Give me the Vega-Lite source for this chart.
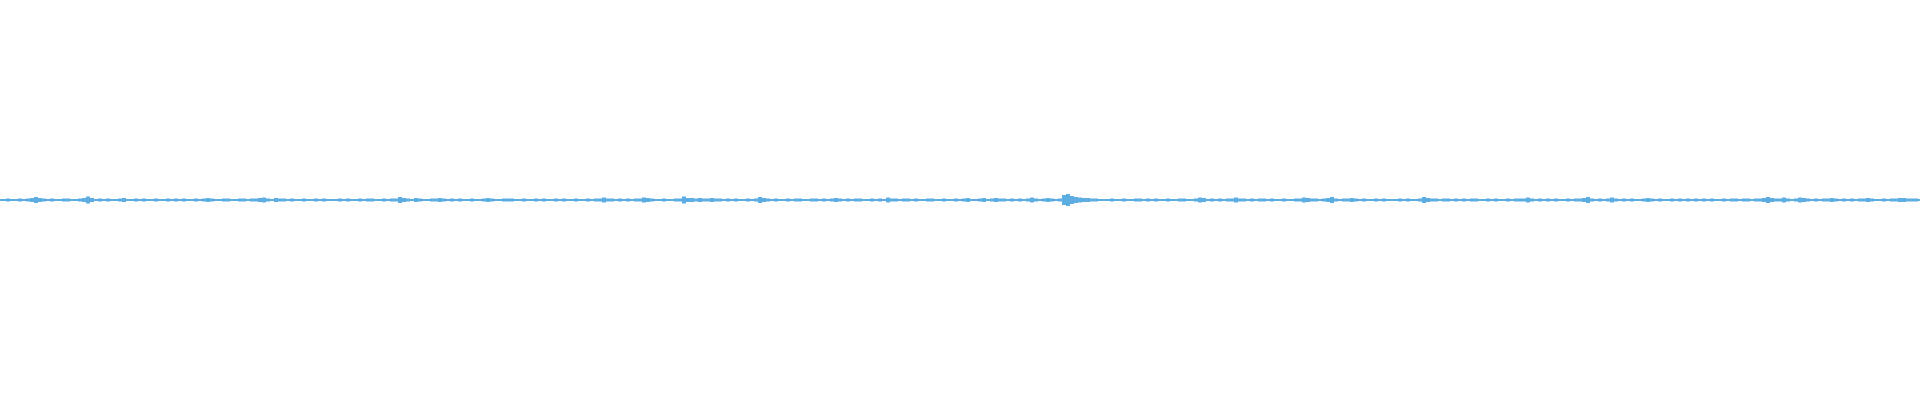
{
"$schema":"https://vega.github.io/schema/vega-lite/v6.json",
"width":1920,"height":400,
"autosize":{"type":"fit","contains":"padding"},
"padding":0,
"background":"white",
"config":{"view":{"stroke":null}},
"data":{"values":[
{"t":0,"a":1},{"t":4,"a":1},{"t":8,"a":1.5},{"t":12,"a":1},{"t":16,"a":1},{"t":20,"a":1.5},{"t":24,"a":1},{"t":28,"a":1.5},{"t":32,"a":2},{"t":36,"a":3},
{"t":40,"a":2},{"t":44,"a":1.5},{"t":48,"a":1},{"t":52,"a":1.5},{"t":56,"a":1},{"t":60,"a":1},{"t":64,"a":1.5},{"t":68,"a":1.5},{"t":72,"a":1},{"t":76,"a":1},
{"t":80,"a":1.5},{"t":84,"a":2},{"t":88,"a":3.5},{"t":92,"a":2},{"t":96,"a":1},{"t":100,"a":1.5},{"t":104,"a":1},{"t":108,"a":1.5},{"t":112,"a":1},{"t":116,"a":1},
{"t":120,"a":1.5},{"t":124,"a":2},{"t":128,"a":1},{"t":132,"a":1},{"t":136,"a":1.5},{"t":140,"a":1},{"t":144,"a":1.5},{"t":148,"a":1},{"t":152,"a":1},{"t":156,"a":1.5},
{"t":160,"a":1},{"t":164,"a":1},{"t":168,"a":1.5},{"t":172,"a":1},{"t":176,"a":1.5},{"t":180,"a":1},{"t":184,"a":1.5},{"t":188,"a":1},{"t":192,"a":1},{"t":196,"a":1.5},
{"t":200,"a":1},{"t":204,"a":1.5},{"t":208,"a":2},{"t":212,"a":1.5},{"t":216,"a":1},{"t":220,"a":1},{"t":224,"a":1.5},{"t":228,"a":1.5},{"t":232,"a":1},{"t":236,"a":1},
{"t":240,"a":1.5},{"t":244,"a":1.5},{"t":248,"a":1},{"t":252,"a":1.5},{"t":256,"a":1.5},{"t":260,"a":2},{"t":264,"a":2.5},{"t":268,"a":1.5},{"t":272,"a":1},{"t":276,"a":2},
{"t":280,"a":1.5},{"t":284,"a":1.5},{"t":288,"a":1},{"t":292,"a":1.5},{"t":296,"a":1},{"t":300,"a":1},{"t":304,"a":1.5},{"t":308,"a":1},{"t":312,"a":1},{"t":316,"a":1.5},
{"t":320,"a":1},{"t":324,"a":1.5},{"t":328,"a":1},{"t":332,"a":1},{"t":336,"a":1},{"t":340,"a":1.5},{"t":344,"a":1},{"t":348,"a":1.5},{"t":352,"a":1},{"t":356,"a":1},
{"t":360,"a":1.5},{"t":364,"a":1},{"t":368,"a":1.5},{"t":372,"a":1.5},{"t":376,"a":1},{"t":380,"a":1},{"t":384,"a":1.5},{"t":388,"a":1},{"t":392,"a":1.5},{"t":396,"a":1.5},
{"t":400,"a":3},{"t":404,"a":2},{"t":408,"a":1.5},{"t":412,"a":1},{"t":416,"a":2},{"t":420,"a":1.5},{"t":424,"a":1},{"t":428,"a":1},{"t":432,"a":1.5},{"t":436,"a":1.5},
{"t":440,"a":2},{"t":444,"a":1.5},{"t":448,"a":1},{"t":452,"a":1.5},{"t":456,"a":1},{"t":460,"a":1.5},{"t":464,"a":1},{"t":468,"a":1},{"t":472,"a":1.5},{"t":476,"a":1},
{"t":480,"a":1},{"t":484,"a":1.5},{"t":488,"a":2},{"t":492,"a":1.5},{"t":496,"a":1},{"t":500,"a":1},{"t":504,"a":1.5},{"t":508,"a":1.5},{"t":512,"a":1.5},{"t":516,"a":1},
{"t":520,"a":1},{"t":524,"a":1.5},{"t":528,"a":1},{"t":532,"a":1},{"t":536,"a":1.5},{"t":540,"a":1},{"t":544,"a":1.5},{"t":548,"a":1},{"t":552,"a":1},{"t":556,"a":1.5},
{"t":560,"a":1},{"t":564,"a":1.5},{"t":568,"a":1},{"t":572,"a":1},{"t":576,"a":1.5},{"t":580,"a":1},{"t":584,"a":1},{"t":588,"a":1.5},{"t":592,"a":1},{"t":596,"a":1.5},
{"t":600,"a":1.5},{"t":604,"a":2.5},{"t":608,"a":1.5},{"t":612,"a":1.5},{"t":616,"a":1},{"t":620,"a":1.5},{"t":624,"a":1},{"t":628,"a":1.5},{"t":632,"a":1},{"t":636,"a":1.5},
{"t":640,"a":1.5},{"t":644,"a":2.5},{"t":648,"a":2},{"t":652,"a":1.5},{"t":656,"a":1},{"t":660,"a":1},{"t":664,"a":1.5},{"t":668,"a":1},{"t":672,"a":1},{"t":676,"a":1.5},
{"t":680,"a":1.5},{"t":684,"a":3.5},{"t":688,"a":2},{"t":692,"a":2},{"t":696,"a":1.5},{"t":700,"a":2},{"t":704,"a":1.5},{"t":708,"a":1.5},{"t":712,"a":2},{"t":716,"a":1.5},
{"t":720,"a":1.5},{"t":724,"a":1},{"t":728,"a":1.5},{"t":732,"a":1},{"t":736,"a":1.5},{"t":740,"a":1},{"t":744,"a":1},{"t":748,"a":1.5},{"t":752,"a":1},{"t":756,"a":1.5},
{"t":760,"a":3},{"t":764,"a":2},{"t":768,"a":1.5},{"t":772,"a":1},{"t":776,"a":1.5},{"t":780,"a":1},{"t":784,"a":1},{"t":788,"a":1.5},{"t":792,"a":1},{"t":796,"a":1.5},
{"t":800,"a":1.5},{"t":804,"a":1},{"t":808,"a":1},{"t":812,"a":1.5},{"t":816,"a":1.5},{"t":820,"a":1},{"t":824,"a":1.5},{"t":828,"a":1},{"t":832,"a":1.5},{"t":836,"a":2},
{"t":840,"a":1.5},{"t":844,"a":1},{"t":848,"a":1.5},{"t":852,"a":1},{"t":856,"a":1.5},{"t":860,"a":1.5},{"t":864,"a":1},{"t":868,"a":1},{"t":872,"a":1.5},{"t":876,"a":1},
{"t":880,"a":1.5},{"t":884,"a":1},{"t":888,"a":2.5},{"t":892,"a":1.5},{"t":896,"a":1.5},{"t":900,"a":1},{"t":904,"a":1.5},{"t":908,"a":1.5},{"t":912,"a":1},{"t":916,"a":1.5},
{"t":920,"a":1},{"t":924,"a":1},{"t":928,"a":1.5},{"t":932,"a":1.5},{"t":936,"a":1},{"t":940,"a":1},{"t":944,"a":1.5},{"t":948,"a":1},{"t":952,"a":1},{"t":956,"a":1.5},
{"t":960,"a":1},{"t":964,"a":1.5},{"t":968,"a":2},{"t":972,"a":1},{"t":976,"a":1},{"t":980,"a":1.5},{"t":984,"a":2},{"t":988,"a":1},{"t":992,"a":1.5},{"t":996,"a":2},
{"t":1000,"a":1.5},{"t":1004,"a":1.5},{"t":1008,"a":1},{"t":1012,"a":1.5},{"t":1016,"a":1},{"t":1020,"a":1.5},{"t":1024,"a":1},{"t":1028,"a":1.5},{"t":1032,"a":2.5},{"t":1036,"a":1.5},
{"t":1040,"a":1},{"t":1044,"a":1.5},{"t":1048,"a":2},{"t":1052,"a":1.5},{"t":1056,"a":1},{"t":1060,"a":1.5},{"t":1064,"a":5},{"t":1068,"a":6},{"t":1072,"a":4},{"t":1076,"a":3},
{"t":1080,"a":2.5},{"t":1084,"a":2},{"t":1088,"a":2},{"t":1092,"a":1.5},{"t":1096,"a":1.5},{"t":1100,"a":1},{"t":1104,"a":1},{"t":1108,"a":1},{"t":1112,"a":1.5},{"t":1116,"a":1},
{"t":1120,"a":1},{"t":1124,"a":1.5},{"t":1128,"a":1},{"t":1132,"a":1},{"t":1136,"a":1.5},{"t":1140,"a":1.5},{"t":1144,"a":1},{"t":1148,"a":1.5},{"t":1152,"a":1},{"t":1156,"a":1.5},
{"t":1160,"a":1},{"t":1164,"a":1},{"t":1168,"a":1.5},{"t":1172,"a":1},{"t":1176,"a":1},{"t":1180,"a":1.5},{"t":1184,"a":1.5},{"t":1188,"a":1},{"t":1192,"a":1},{"t":1196,"a":1.5},
{"t":1200,"a":2.5},{"t":1204,"a":2},{"t":1208,"a":1},{"t":1212,"a":1.5},{"t":1216,"a":1},{"t":1220,"a":1.5},{"t":1224,"a":1},{"t":1228,"a":1.5},{"t":1232,"a":1.5},{"t":1236,"a":2.5},
{"t":1240,"a":1.5},{"t":1244,"a":1.5},{"t":1248,"a":1},{"t":1252,"a":1.5},{"t":1256,"a":1},{"t":1260,"a":1.5},{"t":1264,"a":1.5},{"t":1268,"a":1},{"t":1272,"a":1.5},{"t":1276,"a":1},
{"t":1280,"a":1},{"t":1284,"a":1.5},{"t":1288,"a":1},{"t":1292,"a":1},{"t":1296,"a":1.5},{"t":1300,"a":1.5},{"t":1304,"a":2.5},{"t":1308,"a":2},{"t":1312,"a":1.5},{"t":1316,"a":1.5},
{"t":1320,"a":1},{"t":1324,"a":1.5},{"t":1328,"a":2},{"t":1332,"a":3},{"t":1336,"a":1.5},{"t":1340,"a":1},{"t":1344,"a":1.5},{"t":1348,"a":1.5},{"t":1352,"a":2},{"t":1356,"a":1.5},
{"t":1360,"a":1},{"t":1364,"a":1.5},{"t":1368,"a":1},{"t":1372,"a":1},{"t":1376,"a":1.5},{"t":1380,"a":1},{"t":1384,"a":1.5},{"t":1388,"a":1},{"t":1392,"a":1},{"t":1396,"a":1},
{"t":1400,"a":1.5},{"t":1404,"a":1},{"t":1408,"a":1.5},{"t":1412,"a":1},{"t":1416,"a":1},{"t":1420,"a":1.5},{"t":1424,"a":3},{"t":1428,"a":2},{"t":1432,"a":1.5},{"t":1436,"a":1.5},
{"t":1440,"a":1},{"t":1444,"a":1.5},{"t":1448,"a":1.5},{"t":1452,"a":1},{"t":1456,"a":1.5},{"t":1460,"a":1},{"t":1464,"a":1.5},{"t":1468,"a":1},{"t":1472,"a":1.5},{"t":1476,"a":1.5},
{"t":1480,"a":1},{"t":1484,"a":1},{"t":1488,"a":1.5},{"t":1492,"a":1},{"t":1496,"a":1.5},{"t":1500,"a":1},{"t":1504,"a":1},{"t":1508,"a":1.5},{"t":1512,"a":1},{"t":1516,"a":1.5},
{"t":1520,"a":1.5},{"t":1524,"a":1.5},{"t":1528,"a":2.5},{"t":1532,"a":1.5},{"t":1536,"a":1},{"t":1540,"a":1.5},{"t":1544,"a":1},{"t":1548,"a":1.5},{"t":1552,"a":1},{"t":1556,"a":1.5},
{"t":1560,"a":1},{"t":1564,"a":1},{"t":1568,"a":1.5},{"t":1572,"a":1},{"t":1576,"a":1.5},{"t":1580,"a":1.5},{"t":1584,"a":2},{"t":1588,"a":3},{"t":1592,"a":1.5},{"t":1596,"a":1},
{"t":1600,"a":1.5},{"t":1604,"a":1},{"t":1608,"a":1.5},{"t":1612,"a":2.5},{"t":1616,"a":1.5},{"t":1620,"a":1},{"t":1624,"a":1.5},{"t":1628,"a":1},{"t":1632,"a":1.5},{"t":1636,"a":1},
{"t":1640,"a":1},{"t":1644,"a":1.5},{"t":1648,"a":2},{"t":1652,"a":1.5},{"t":1656,"a":1},{"t":1660,"a":1.5},{"t":1664,"a":1},{"t":1668,"a":1},{"t":1672,"a":1.5},{"t":1676,"a":1},
{"t":1680,"a":1.5},{"t":1684,"a":1},{"t":1688,"a":1.5},{"t":1692,"a":1},{"t":1696,"a":1.5},{"t":1700,"a":1},{"t":1704,"a":1.5},{"t":1708,"a":1},{"t":1712,"a":1.5},{"t":1716,"a":1},
{"t":1720,"a":1},{"t":1724,"a":1.5},{"t":1728,"a":1},{"t":1732,"a":1.5},{"t":1736,"a":1.5},{"t":1740,"a":1},{"t":1744,"a":1.5},{"t":1748,"a":1.5},{"t":1752,"a":1},{"t":1756,"a":1.5},
{"t":1760,"a":1.5},{"t":1764,"a":2},{"t":1768,"a":3},{"t":1772,"a":2},{"t":1776,"a":1.5},{"t":1780,"a":1.5},{"t":1784,"a":2.5},{"t":1788,"a":1.5},{"t":1792,"a":1},{"t":1796,"a":1.5},
{"t":1800,"a":2.5},{"t":1804,"a":2},{"t":1808,"a":1.5},{"t":1812,"a":1},{"t":1816,"a":1.5},{"t":1820,"a":1},{"t":1824,"a":1.5},{"t":1828,"a":1.5},{"t":1832,"a":2},{"t":1836,"a":1.5},
{"t":1840,"a":1},{"t":1844,"a":1.5},{"t":1848,"a":1},{"t":1852,"a":1.5},{"t":1856,"a":1},{"t":1860,"a":1.5},{"t":1864,"a":1.5},{"t":1868,"a":2},{"t":1872,"a":1.5},{"t":1876,"a":1},
{"t":1880,"a":1},{"t":1884,"a":1.5},{"t":1888,"a":1},{"t":1892,"a":1.5},{"t":1896,"a":1.5},{"t":1900,"a":2},{"t":1904,"a":2},{"t":1908,"a":1.5},{"t":1912,"a":1.5},{"t":1916,"a":1.5},
{"t":1920,"a":1}
]},
"encoding":{"x":{"field":"t","type":"quantitative","scale":{"domain":[0,1920],"nice":false,"zero":false},"axis":null}},
"layer":[
{"mark":{"type":"area","color":"#5dade2","interpolate":"step"},
 "encoding":{"y":{"field":"a","type":"quantitative","scale":{"domain":[-200,200],"nice":false},"axis":null}}},
{"mark":{"type":"area","color":"#5dade2","interpolate":"step"},
 "encoding":{"y":{"field":"a","type":"quantitative","scale":{"domain":[-200,200],"nice":false,"reverse":true},"axis":null}}}
],
"resolve":{"scale":{"y":"independent"}}
}
